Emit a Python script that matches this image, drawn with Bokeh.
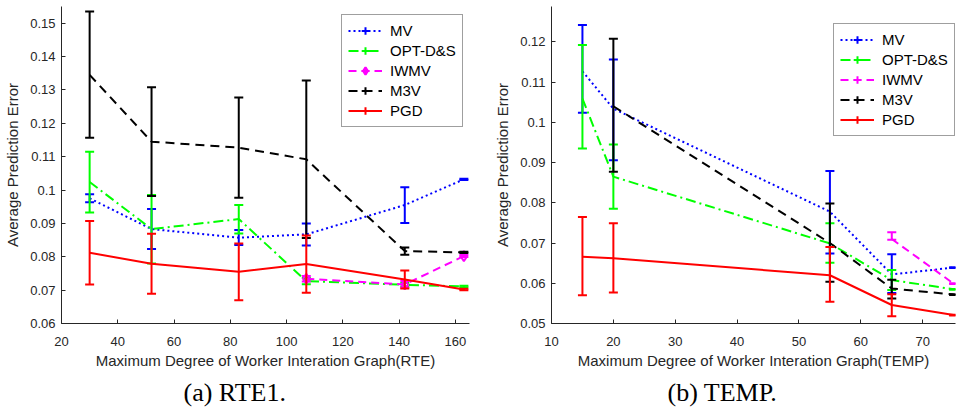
import numpy as np
from bokeh.plotting import figure
from bokeh.models import Range1d, FixedTicker, Legend, LegendItem, Title
from bokeh.layouts import row
from bokeh.embed import file_html
from bokeh.resources import INLINE

nan = np.nan

series_names = ["MV", "OPT-D&S", "IWMV", "M3V", "PGD"]
series_colors = ["#0000FF", "#00FF00", "#FF00FF", "#000000", "#FF0000"]
series_dashes = ["2 3", "10 4 2 4", "8 5", "9 6", "solid"]

# ---------------- (a) RTE1 ----------------
rte_x = [30, 52, 83, 107, 142, 163]
rte_mv_mean = [0.0975, 0.0883, 0.0857, 0.0867, 0.0955, 0.1032]
rte_mv_low = [0.0963, 0.0823, 0.0835, 0.0834, 0.0901, 0.1030]
rte_mv_high = [0.0987, 0.0943, 0.0880, 0.0900, 0.1008, 0.1034]
rte_opt_mean = [0.1024, 0.0883, 0.0913, 0.0727, 0.0716, 0.0711]
rte_opt_low = [0.0933, 0.0780, 0.0870, 0.0718, 0.0711, 0.0709]
rte_opt_high = [0.1115, 0.0985, 0.0955, 0.0736, 0.0721, 0.0713]
rte_iwmv_mean = [nan, nan, nan, 0.0734, 0.0717, 0.0802]
rte_iwmv_low = [nan, nan, nan, 0.0726, 0.0708, 0.0799]
rte_iwmv_high = [nan, nan, nan, 0.0742, 0.0727, 0.0805]
rte_m3v_mean = [0.1345, 0.1145, 0.1127, 0.1092, 0.0817, 0.0813]
rte_m3v_low = [0.1157, 0.0982, 0.0977, 0.0856, 0.0806, 0.0811]
rte_m3v_high = [0.1535, 0.1308, 0.1277, 0.1328, 0.0828, 0.0815]
rte_pgd_mean = [0.0812, 0.0779, 0.0755, 0.0778, 0.0732, 0.0702]
rte_pgd_low = [0.0717, 0.0689, 0.0670, 0.0692, 0.0705, 0.0700]
rte_pgd_high = [0.0907, 0.0869, 0.0840, 0.0864, 0.0759, 0.0704]
rte_xticks = [20, 40, 60, 80, 100, 120, 140, 160]
rte_yticks = [0.06, 0.07, 0.08, 0.09, 0.10, 0.11, 0.12, 0.13, 0.14, 0.15]
rte_ylabels = ["0.06", "0.07", "0.08", "0.09", "0.1", "0.11", "0.12", "0.13", "0.14", "0.15"]
rte_xlabel = "Maximum Degree of Worker Interation Graph(RTE)"
rte_caption = "(a) RTE1."

# ---------------- (b) TEMP ----------------
temp_x = [15, 20, 55, 65, 75]
temp_mv_mean = [0.1127, 0.1034, 0.0778, 0.0622, 0.0639]
temp_mv_low = [0.1024, 0.0906, 0.0674, 0.0576, 0.0638]
temp_mv_high = [0.1242, 0.1156, 0.0879, 0.0672, 0.0640]
temp_opt_mean = [0.1059, 0.0865, 0.0699, 0.0608, 0.0585]
temp_opt_low = [0.0935, 0.0785, 0.0651, 0.0583, 0.0584]
temp_opt_high = [0.1192, 0.0945, 0.0749, 0.0633, 0.0586]
temp_iwmv_mean = [nan, nan, nan, 0.0710, 0.0599]
temp_iwmv_low = [nan, nan, nan, 0.0708, 0.0598]
temp_iwmv_high = [nan, nan, nan, 0.0727, 0.0600]
temp_m3v_mean = [nan, 0.1040, 0.0700, 0.0587, 0.0572]
temp_m3v_low = [nan, 0.0877, 0.0604, 0.0562, 0.0571]
temp_m3v_high = [nan, 0.1208, 0.0798, 0.0609, 0.0573]
temp_pgd_mean = [0.0666, 0.0662, 0.0620, 0.0546, 0.0521]
temp_pgd_low = [0.0570, 0.0577, 0.0554, 0.0518, 0.0520]
temp_pgd_high = [0.0765, 0.0749, 0.0690, 0.0573, 0.0522]
temp_xticks = [10, 20, 30, 40, 50, 60, 70]
temp_yticks = [0.05, 0.06, 0.07, 0.08, 0.09, 0.10, 0.11, 0.12]
temp_ylabels = ["0.05", "0.06", "0.07", "0.08", "0.09", "0.1", "0.11", "0.12"]
temp_xlabel = "Maximum Degree of Worker Interation Graph(TEMP)"
temp_caption = "(b) TEMP."

ylabel = "Average Prediction Error"
AX_COLOR = "#262626"


def make_panel(x, series, xr, yr, xticks, yticks, ylabels, xlabel, caption,
               cap_offset, cap_standoff, borders, legend_xy, diamond_for=None):
    bl, br, bt, bb = borders
    p = figure(width=478, height=411, x_range=Range1d(*xr), y_range=Range1d(*yr),
               output_backend="svg", toolbar_location=None,
               min_border_left=bl, min_border_right=br,
               min_border_top=bt, min_border_bottom=bb)
    p.title.visible = False
    p.grid.visible = False
    p.outline_line_color = None
    p.background_fill_color = "white"
    p.border_fill_color = "white"

    xa = np.array(x, dtype=float)
    items = []
    for name, color, dash, (mean, lo, hi) in zip(series_names, series_colors,
                                                  series_dashes, series):
        mean = np.array(mean, dtype=float)
        lo = np.array(lo, dtype=float)
        hi = np.array(hi, dtype=float)
        m = ~np.isnan(mean)
        r_line = p.line(xa, mean, line_color=color, line_width=2, line_dash=dash)
        p.segment(x0=xa[m], y0=lo[m], x1=xa[m], y1=hi[m],
                  line_color=color, line_width=2)
        p.scatter(xa[m], lo[m], marker="dash", size=9, line_color=color, line_width=2)
        p.scatter(xa[m], hi[m], marker="dash", size=9, line_color=color, line_width=2)
        proxy = p.scatter(xa[m], mean[m], marker="cross", size=0,
                          line_color=color, line_width=2)
        rs = [r_line, proxy]
        if diamond_for == name:
            rd = p.scatter(xa[m], mean[m], marker="diamond", size=10, line_color=color,
                           fill_color=None, line_width=2)
            rs.append(rd)
        items.append(LegendItem(label=name, renderers=rs))

    p.xaxis.ticker = FixedTicker(ticks=xticks)
    p.yaxis.ticker = FixedTicker(ticks=yticks)
    p.yaxis.major_label_overrides = {t: s for t, s in zip(yticks, ylabels)}
    p.xaxis.axis_label = xlabel
    p.yaxis.axis_label = ylabel
    for ax in (p.xaxis[0], p.yaxis[0]):
        ax.axis_line_color = AX_COLOR
        ax.axis_line_width = 1
        ax.major_tick_line_color = AX_COLOR
        ax.major_tick_in = 4
        ax.major_tick_out = 0
        ax.minor_tick_line_color = None
        ax.major_label_text_font = "Liberation Sans"
        ax.major_label_text_font_size = "13px"
        ax.major_label_text_color = AX_COLOR
        ax.axis_label_text_font = "Liberation Sans"
        ax.axis_label_text_font_size = "15px"
        ax.axis_label_text_font_style = "normal"
        ax.axis_label_text_color = AX_COLOR
    p.xaxis.major_label_standoff = 13
    p.yaxis.major_label_standoff = 6
    p.xaxis.axis_label_standoff = 3
    p.yaxis.axis_label_standoff = 6

    leg = Legend(items=items, location=legend_xy, padding=6, spacing=1,
                 glyph_width=34, glyph_height=19, label_height=19, label_standoff=8,
                 label_text_font="Liberation Sans", label_text_font_size="15px",
                 label_text_color="black", border_line_color="#404040",
                 border_line_width=1, background_fill_color="white",
                 background_fill_alpha=1, margin=0)
    p.add_layout(leg, "center")

    t = Title(text=caption, align="left", offset=cap_offset,
              text_font="Liberation Serif", text_font_size="26px",
              text_font_style="normal", text_color="black", standoff=cap_standoff)
    p.add_layout(t, "below")
    return p


rte_series = [
    (rte_mv_mean, rte_mv_low, rte_mv_high),
    (rte_opt_mean, rte_opt_low, rte_opt_high),
    (rte_iwmv_mean, rte_iwmv_low, rte_iwmv_high),
    (rte_m3v_mean, rte_m3v_low, rte_m3v_high),
    (rte_pgd_mean, rte_pgd_low, rte_pgd_high),
]
temp_series = [
    (temp_mv_mean, temp_mv_low, temp_mv_high),
    (temp_opt_mean, temp_opt_low, temp_opt_high),
    (temp_iwmv_mean, temp_iwmv_low, temp_iwmv_high),
    (temp_m3v_mean, temp_m3v_low, temp_m3v_high),
    (temp_pgd_mean, temp_pgd_low, temp_pgd_high),
]

p1 = make_panel(rte_x, rte_series, (20, 165), (0.06, 0.155), rte_xticks, rte_yticks,
                rte_ylabels, rte_xlabel, rte_caption, 122, 8, (61, 9, 6, 88),
                (280, 196), diamond_for="IWMV")
p2 = make_panel(temp_x, temp_series, (10, 75.3), (0.05, 0.1288), temp_xticks, temp_yticks,
                temp_ylabels, temp_xlabel, temp_caption, 116, 9, (73, 1, 6, 88),
                (282, 187))

layout = row(p1, p2)
open("out.html", "w").write(file_html(layout, INLINE))
